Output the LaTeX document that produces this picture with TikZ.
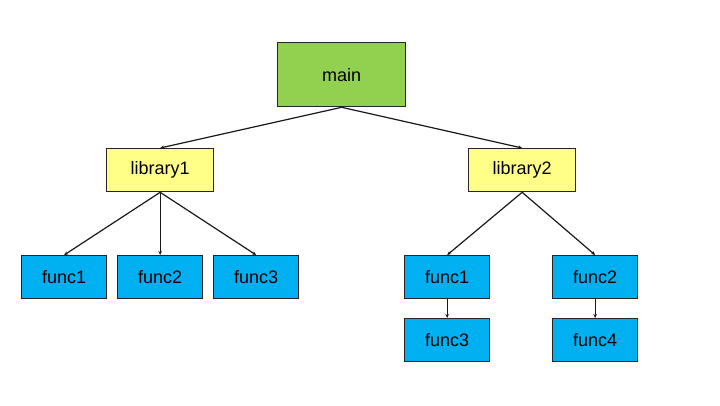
\documentclass[tikz,border=0pt]{standalone}
\usepackage{fontspec}
\setmainfont{Liberation Sans}
\usetikzlibrary{arrows.meta}
\definecolor{mainfill}{HTML}{92D050}
\definecolor{libfill}{HTML}{FFFF88}
\definecolor{funcfill}{HTML}{00B0F0}
\tikzset{
  box/.style={draw=black!85, line width=1.3pt, inner sep=0pt, anchor=north west,
    font=\fontsize{18}{21}\selectfont},
  mainbox/.style={box, fill=mainfill, minimum width=128pt, minimum height=64pt},
  libbox/.style={box, fill=libfill, minimum width=107pt, minimum height=43pt},
  funcbox/.style={box, fill=funcfill, minimum width=85pt, minimum height=43pt},
  link/.style={draw=black!90, line width=1.2pt, -{Stealth[length=4pt,width=3.5pt]}}
}
\begin{document}
\begin{tikzpicture}[x=1pt,y=-1pt]
  \useasboundingbox (0,0) rectangle (720,405);
  \fill[white] (0,0) rectangle (720,405);

  \node[mainbox] (main) at (277,42) {main};

  \node[libbox] (lib1) at (106,148) {library1};
  \node[libbox] (lib2) at (468,148) {library2};

  \node[funcbox] (a1) at (21,255) {func1};
  \node[funcbox] (a2) at (117,255) {func2};
  \node[funcbox] (a3) at (213,255) {func3};

  \node[funcbox] (b1) at (404,255) {func1};
  \node[funcbox] (b2) at (552,255) {func2};
  \node[funcbox] (b3) at (404,318) {func3};
  \node[funcbox] (b4) at (552,318) {func4};

  \draw[link] (main.south) -- (lib1.north);
  \draw[link] (main.south) -- (lib2.north);

  \draw[link] (lib1.south) -- (a1.north);
  \draw[link] (lib1.south) -- (a2.north);
  \draw[link] (lib1.south) -- (a3.north);

  \draw[link] (lib2.south) -- (b1.north);
  \draw[link] (lib2.south) -- (b2.north);
  \draw[link] (b1.south) -- (b3.north);
  \draw[link] (b2.south) -- (b4.north);
\end{tikzpicture}
\end{document}
